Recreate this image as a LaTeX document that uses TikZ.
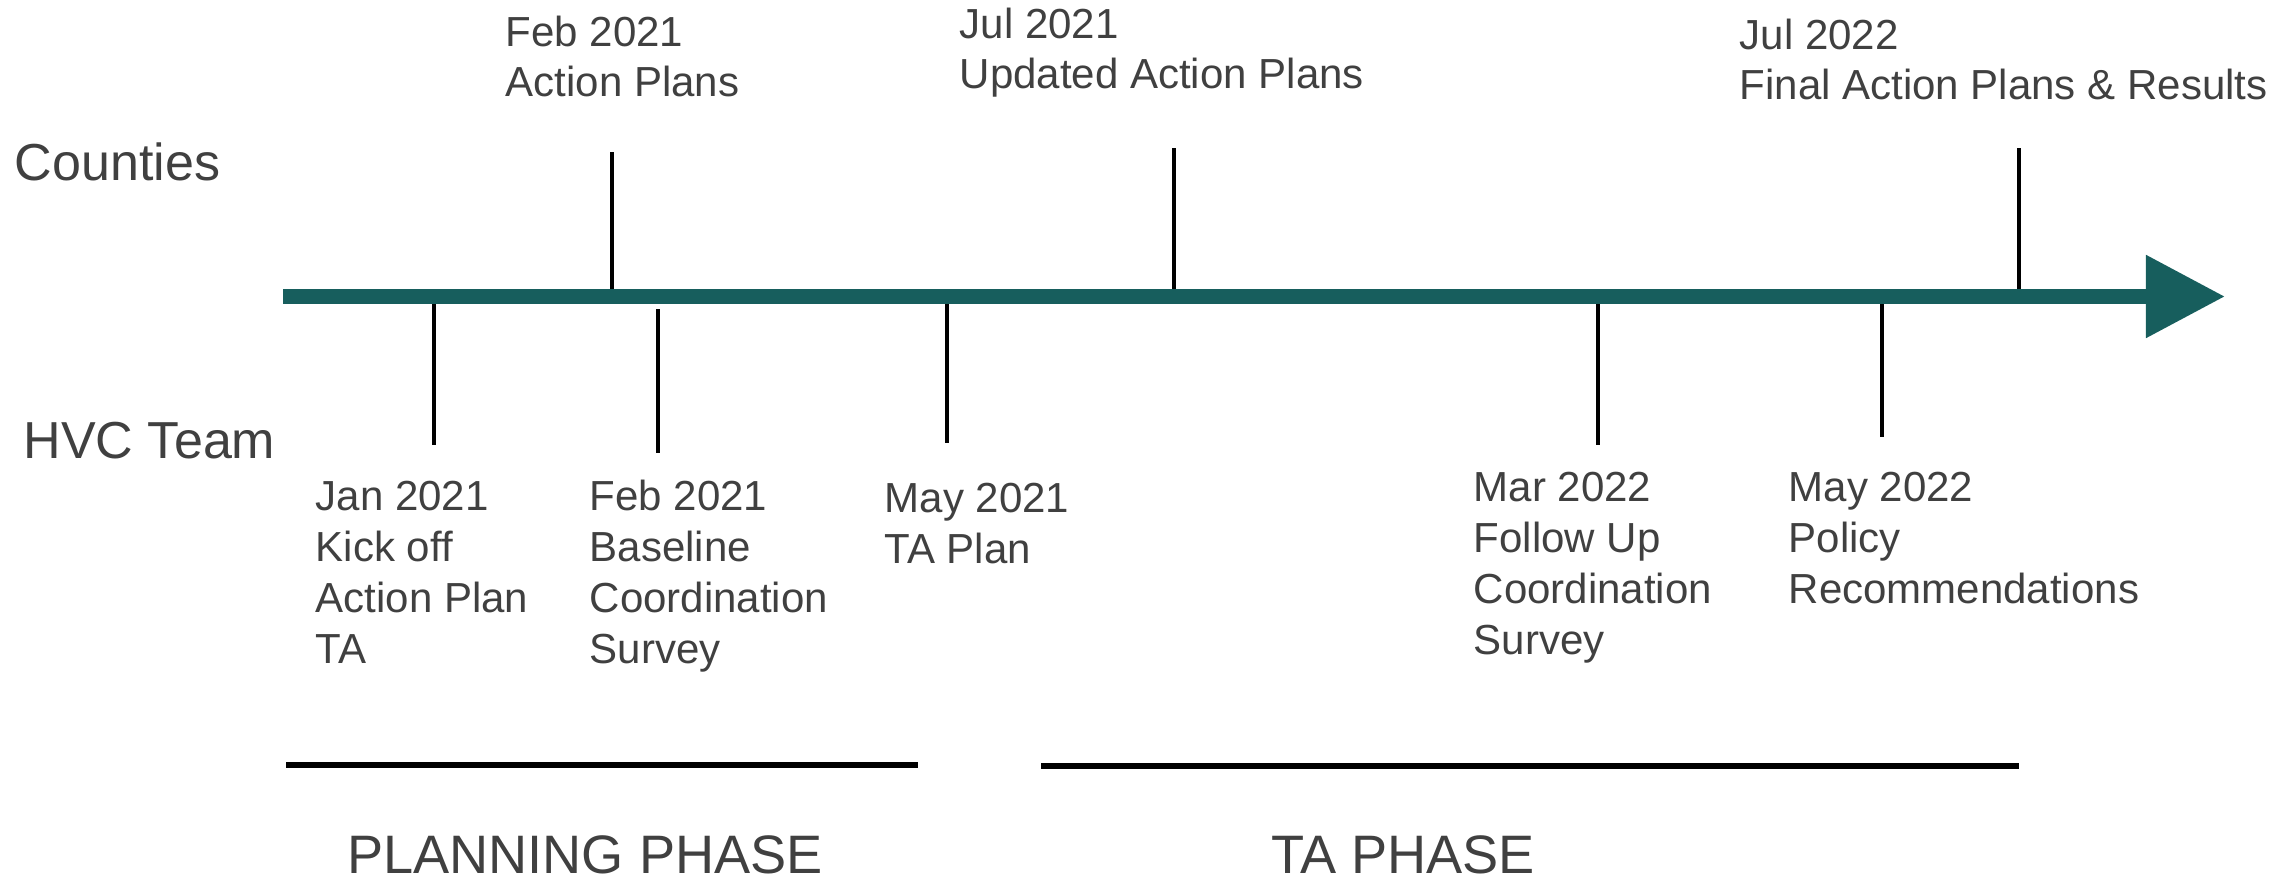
\documentclass[tikz,border=0pt]{standalone}
\usepackage{fontspec}
\setmainfont{Liberation Sans}
\usepackage{tikz}
\usetikzlibrary{arrows.meta,positioning}
\definecolor{hvcteal}{RGB}{23,94,93}
\definecolor{labelgray}{RGB}{64,64,64}
% multi-line labels: base anchor sits on the last line
\tikzstyle{eventlabel} = [align=left, anchor=base west, inner sep=0pt,
    text=labelgray, font=\fontsize{11.95}{14.5}\selectfont]
\tikzstyle{rowlabel} = [anchor=base west, inner sep=0pt, text=labelgray,
    font=\fontsize{14.8}{17}\selectfont]
\tikzstyle{phaselabel} = [anchor=base, inner sep=0pt, text=labelgray,
    font=\fontsize{15.4}{18}\selectfont]
\tikzstyle{tickline} = [draw=black, line width=1.3pt]
\tikzstyle{phaseline} = [draw=black, line width=1.6pt]

\begin{document}
\begin{tikzpicture}[x=0.01cm, y=-0.01cm]
  \useasboundingbox (0,0) rectangle (2294,876);
  % Place nodes
  \node [rowlabel] (counties) at (14,180) {Counties};
  \node [rowlabel] (team) at (23,458) {HVC Team};
  \coordinate (start) at (283,296.5);
  \coordinate (end) at (2225,296.5);
  % ticks above the line
  \coordinate (u1) at (612,296); \coordinate (u1e) at (612,152);
  \coordinate (u2) at (1174,296); \coordinate (u2e) at (1174,148);
  \coordinate (u3) at (2019,296); \coordinate (u3e) at (2019,148);
  % ticks below the line
  \coordinate (d1) at (434,296); \coordinate (d1e) at (434,445);
  \coordinate (d2) at (658,309); \coordinate (d2e) at (658,453);
  \coordinate (d3) at (947,296); \coordinate (d3e) at (947,443);
  \coordinate (d4) at (1598,296); \coordinate (d4e) at (1598,445);
  \coordinate (d5) at (1882,296); \coordinate (d5e) at (1882,437);
  \node [eventlabel] (feb21a) at (505,97) {Feb 2021\\Action Plans};
  \node [eventlabel] (jul21) at (959,89) {Jul 2021\\Updated Action Plans};
  \node [eventlabel] (jul22) at (1739,100) {Jul 2022\\Final Action Plans \& Results};
  \node [eventlabel] (jan21) at (315,663) {Jan 2021\\Kick off\\Action Plan\\TA};
  \node [eventlabel] (feb21b) at (589,663) {Feb 2021\\Baseline\\Coordination\\Survey};
  \node [eventlabel] (may21) at (884,563) {May 2021\\TA Plan};
  \node [eventlabel] (mar22) at (1473,654) {Mar 2022\\Follow Up\\Coordination\\Survey};
  \node [eventlabel] (may22) at (1788,603) {May 2022\\Policy\\Recommendations};
  \coordinate (p1) at (286,765); \coordinate (p2) at (918,765);
  \coordinate (p3) at (1041,766); \coordinate (p4) at (2019,766);
  \node [phaselabel] (planning) at (585,873) {PLANNING PHASE};
  \node [phaselabel] (ta) at (1403,873) {TA PHASE};
  \draw [tickline] (u1) -- (u1e);
  \draw [tickline] (u2) -- (u2e);
  \draw [tickline] (u3) -- (u3e);
  \draw [tickline] (d1) -- (d1e);
  \draw [tickline] (d2) -- (d2e);
  \draw [tickline] (d3) -- (d3e);
  \draw [tickline] (d4) -- (d4e);
  \draw [tickline] (d5) -- (d5e);
  \draw [hvcteal, line width=0.15cm, -{Triangle[length=0.79cm,width=0.79cm]}] (start) -- (end);
  \draw [phaseline] (p1) -- (p2);
  \draw [phaseline] (p3) -- (p4);
\end{tikzpicture}
\end{document}
